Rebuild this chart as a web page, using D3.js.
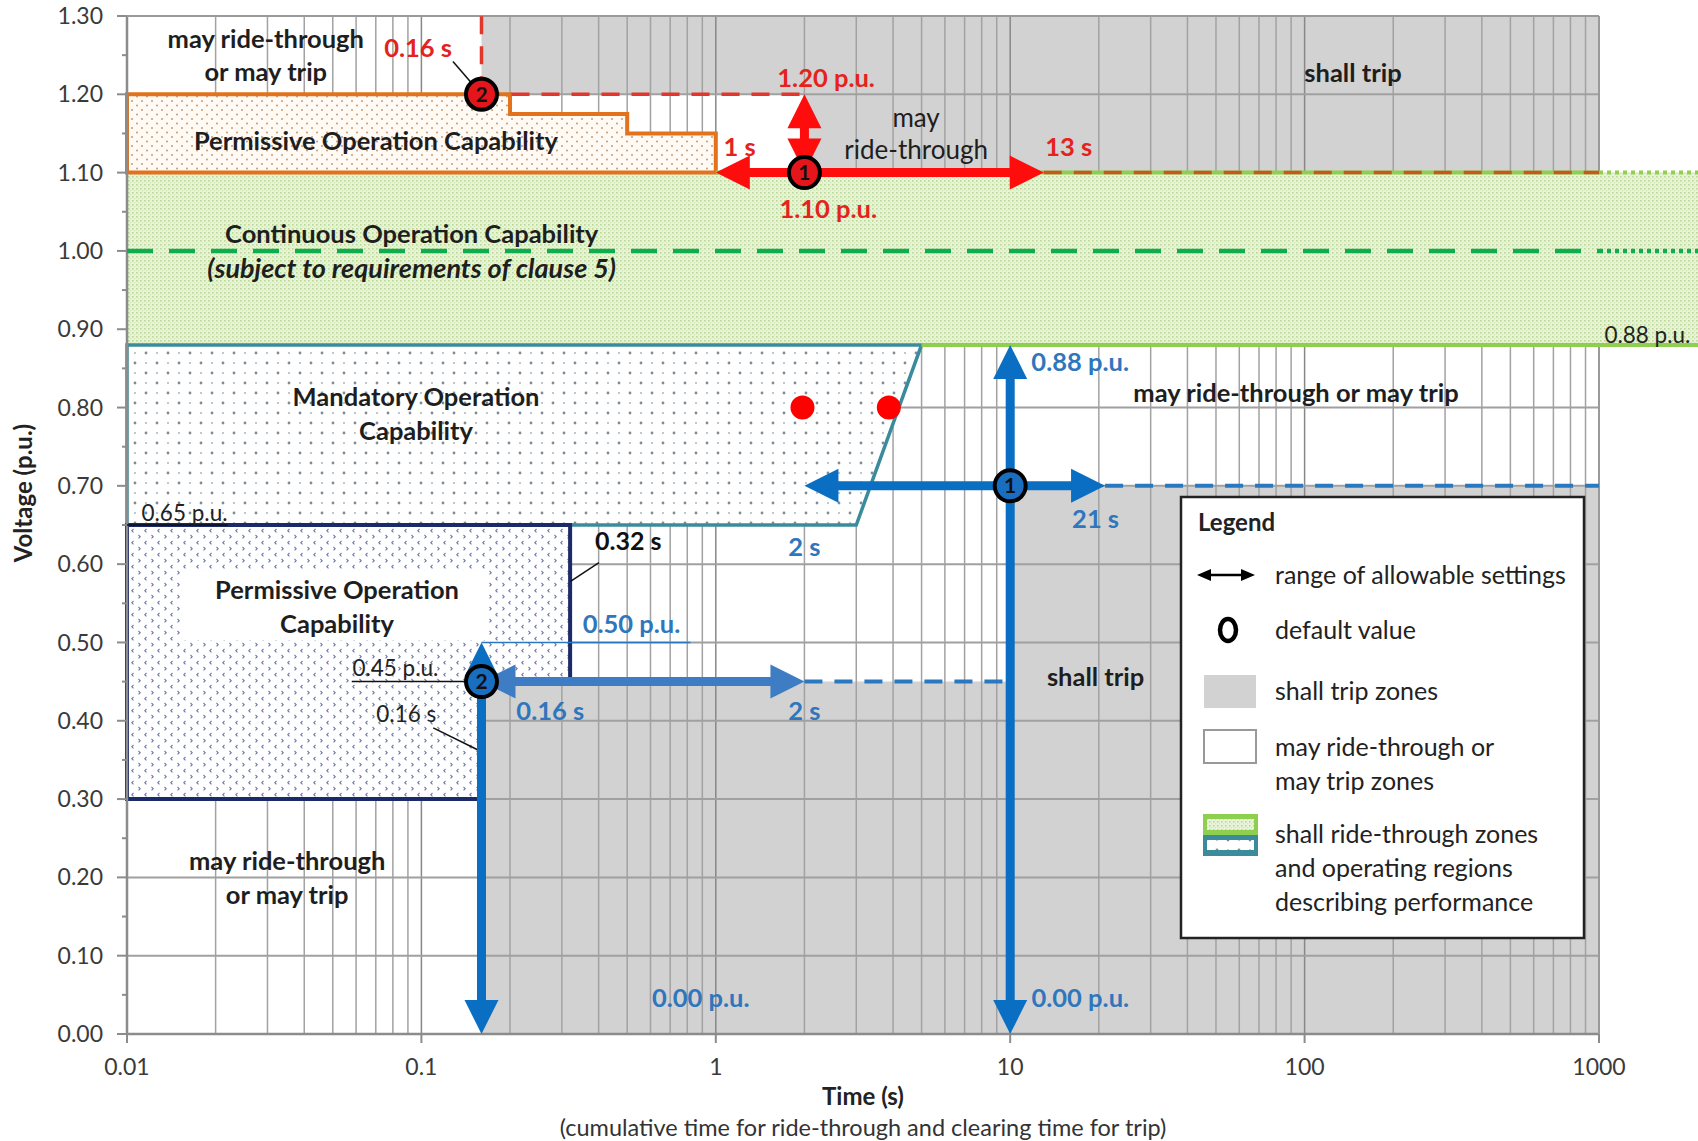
<!DOCTYPE html>
<html><head><meta charset="utf-8">
<script src="https://cdn.jsdelivr.net/npm/d3@7"></script>
<style>
html,body{margin:0;padding:0;background:#fff;}
svg{display:block;font-family:Lato,"Open Sans",sans-serif;}
</style></head>
<body>
<svg id="chart" width="1698" height="1141"></svg>
<script>
// ---------------- DATA ----------------
const xTicks = [0.01, 0.1, 1, 10, 100, 1000];
const xTickLabels = ["0.01", "0.1", "1", "10", "100", "1000"];
const yTicks = [0, 0.1, 0.2, 0.3, 0.4, 0.5, 0.6, 0.7, 0.8, 0.9, 1.0, 1.1, 1.2, 1.3];
const yTickLabels = ["0.00","0.10","0.20","0.30","0.40","0.50","0.60","0.70","0.80","0.90","1.00","1.10","1.20","1.30"];
const xAxisTitle = "Time (s)";
const xAxisSubtitle = "(cumulative time for ride-through and clearing time for trip)";
const yAxisTitle = "Voltage (p.u.)";

// zones [time (s), voltage (p.u.)]
const shallTripUpper = [[0.16,1.30],[1000,1.30],[1000,1.10],[2,1.10],[2,1.20],[0.16,1.20]];
const shallTripLower = [[0.16,0],[0.16,0.45],[10,0.45],[10,0.70],[1000,0.70],[1000,0]];
const continuousZone = [[0.01,0.88],[0.01,1.10],[2200,1.10],[2200,0.88]];
const permissiveHigh = [[0.01,1.10],[0.01,1.20],[0.2,1.20],[0.2,1.175],[0.5,1.175],[0.5,1.15],[1,1.15],[1,1.10]];
const mandatoryZone = [[0.01,0.65],[0.01,0.88],[5,0.88],[3,0.65]];
const permissiveLow = [[0.01,0.30],[0.01,0.65],[0.32,0.65],[0.32,0.45],[0.16,0.45],[0.16,0.30]];
const permissiveLowLabelBox = [[0.0155,0.503],[0.168,0.592]];

// lines
const refLines = [
  {pts:[[1,1.10],[1000,1.10]], kind:"greenSolid"},
  {pts:[[1000,1.10],[2200,1.10]], kind:"greenDot"},
  {pts:[[5,0.88],[2200,0.88]], kind:"greenSolid"},
  {pts:[[0.01,1.00],[1000,1.00]], kind:"greenDash"},
  {pts:[[1000,1.00],[2200,1.00]], kind:"greenDot2"},
  {pts:[[0.16,1.20],[2,1.20]], kind:"redDash"},
  {pts:[[0.16,1.20],[0.16,1.30]], kind:"redDash"},
  {pts:[[13,1.10],[1000,1.10]], kind:"orangeDash"},
  {pts:[[21,0.70],[1000,0.70]], kind:"blueDash"},
  {pts:[[2,0.45],[10,0.45]], kind:"blueDash"},
  {pts:[[0.16,0.02],[0.16,0.45]], kind:"blueDashThin"},
  {pts:[[0.16,0.50],[0.82,0.50]], kind:"blueThin"},
  {pts:[[0.058,0.45],[0.16,0.45]], kind:"blackThin"},
  {pts:[[0.01,0.65],[0.022,0.65]], kind:"blackThin"},
  {pts:[[0.128,1.242],[0.150,1.212]], kind:"blackThin"},
  {pts:[[0.401,0.602],[0.321,0.578]], kind:"blackThin"},
  {pts:[[0.1097,0.391],[0.157,0.362]], kind:"blackThin"}
];

// double-headed arrows
const arrows = [
  {from:[1,1.10], to:[13,1.10], color:"#ff0d0d"},
  {from:[2,1.10], to:[2,1.20], color:"#ff0d0d"},
  {from:[10,0], to:[10,0.88], color:"#0a6fc2"},
  {from:[2,0.70], to:[21,0.70], color:"#0a6fc2"},
  {from:[0.16,0.45], to:[2,0.45], color:"#3e7cc4"},
  {from:[0.16,0], to:[0.16,0.50], color:"#0a6fc2"}
];

// default-value markers
const markers = [
  {t:2, v:1.10, n:"1", fill:"#e4161b"},
  {t:0.16, v:1.20, n:"2", fill:"#e4161b"},
  {t:10, v:0.70, n:"1", fill:"#1a6ec0"},
  {t:0.16, v:0.45, n:"2", fill:"#1a6ec0"}
];
const redDots = [[1.97,0.80],[3.87,0.80]];

// text annotations anchored at [time, voltage]
const labels = [
  {t:0.0296, v:1.271, text:"may ride-through", kind:"zone"},
  {t:0.0296, v:1.228, text:"or may trip", kind:"zone"},
  {t:0.0975, v:1.259, text:"0.16 s", kind:"red"},
  {t:2.37, v:1.221, text:"1.20 p.u.", kind:"red"},
  {t:1.205, v:1.133, text:"1 s", kind:"red"},
  {t:15.8, v:1.133, text:"13 s", kind:"red"},
  {t:2.41, v:1.053, text:"1.10 p.u.", kind:"red"},
  {t:4.79, v:1.170, text:"may", kind:"zoneReg"},
  {t:4.79, v:1.129, text:"ride-through", kind:"zoneReg"},
  {t:146, v:1.227, text:"shall trip", kind:"zone"},
  {t:0.0701, v:1.140, text:"Permissive Operation Capability", kind:"zone"},
  {t:0.0927, v:1.021, text:"Continuous Operation Capability", kind:"zone"},
  {t:0.0927, v:0.978, text:"(subject to requirements of clause 5)", kind:"italic"},
  {t:1043, v:0.892, text:"0.88 p.u.", kind:"noteStart"},
  {t:0.0959, v:0.813, text:"Mandatory Operation", kind:"zone"},
  {t:0.0959, v:0.770, text:"Capability", kind:"zone"},
  {t:11.8, v:0.858, text:"0.88 p.u.", kind:"blueStart"},
  {t:93.5, v:0.819, text:"may ride-through or may trip", kind:"zone"},
  {t:0.0112, v:0.665, text:"0.65 p.u.", kind:"noteStart"},
  {t:2.0, v:0.622, text:"2 s", kind:"blue"},
  {t:19.5, v:0.657, text:"21 s", kind:"blue"},
  {t:0.504, v:0.629, text:"0.32 s", kind:"noteBold"},
  {t:0.0517, v:0.567, text:"Permissive Operation", kind:"zone"},
  {t:0.0517, v:0.524, text:"Capability", kind:"zone"},
  {t:0.517, v:0.523, text:"0.50 p.u.", kind:"blue"},
  {t:0.0816, v:0.4675, text:"0.45 p.u.", kind:"note"},
  {t:0.0888, v:0.408, text:"0.16 s", kind:"note"},
  {t:0.274, v:0.412, text:"0.16 s", kind:"blue"},
  {t:2.0, v:0.412, text:"2 s", kind:"blue"},
  {t:19.5, v:0.456, text:"shall trip", kind:"zone"},
  {t:0.035, v:0.221, text:"may ride-through", kind:"zone"},
  {t:0.035, v:0.178, text:"or may trip", kind:"zone"},
  {t:0.889, v:0.0456, text:"0.00 p.u.", kind:"blue"},
  {t:17.3, v:0.0456, text:"0.00 p.u.", kind:"blue"}
];

const legendTitle = "Legend";
const legendItems = [
  {icon:"arrow", lines:["range of allowable settings"]},
  {icon:"circle", lines:["default value"]},
  {icon:"gray", lines:["shall trip zones"]},
  {icon:"white", lines:["may ride-through or","may trip zones"]},
  {icon:"green", lines:["shall ride-through zones","and operating regions","describing performance"]}
];

// ---------------- DRAW ----------------
const svg = d3.select("#chart");
const x = d3.scaleLog().domain([0.01, 1000]).range([127, 1599]);
const y = d3.scaleLinear().domain([0, 1.3]).range([1034, 16]);
const line = d3.line().x(d => x(d[0])).y(d => y(d[1]));
const poly = pts => line(pts) + "Z";

const defs = svg.append("defs");
let p = defs.append("pattern").attr("id","pGreen").attr("patternUnits","userSpaceOnUse").attr("width",4).attr("height",4);
p.append("rect").attr("width",4).attr("height",4).attr("fill","#e9f3da");
p.append("rect").attr("x",0).attr("y",0).attr("width",1.6).attr("height",1.6).attr("fill","#b9d894");
p.append("rect").attr("x",2).attr("y",2).attr("width",1.2).attr("height",1.2).attr("fill","#d0e6b4");
p = defs.append("pattern").attr("id","pOrange").attr("patternUnits","userSpaceOnUse").attr("width",10).attr("height",9);
p.append("rect").attr("width",10).attr("height",9).attr("fill","#fffaf4");
p.append("circle").attr("cx",2).attr("cy",2).attr("r",1).attr("fill","#c49a7a");
p.append("circle").attr("cx",7).attr("cy",6.5).attr("r",1).attr("fill","#c49a7a");
p = defs.append("pattern").attr("id","pTeal").attr("patternUnits","userSpaceOnUse").attr("width",22).attr("height",20);
p.append("rect").attr("width",22).attr("height",20).attr("fill","#ffffff");
p.append("circle").attr("cx",3).attr("cy",3).attr("r",1.4).attr("fill","#7d8c99");
p.append("circle").attr("cx",14).attr("cy",13).attr("r",1.4).attr("fill","#7d8c99");
p.append("circle").attr("cx",14).attr("cy",3).attr("r",1).attr("fill","#aab5bf");
p.append("circle").attr("cx",3).attr("cy",13).attr("r",1).attr("fill","#aab5bf");
p = defs.append("pattern").attr("id","pNavy").attr("patternUnits","userSpaceOnUse").attr("width",13).attr("height",12);
p.append("rect").attr("width",13).attr("height",12).attr("fill","#ffffff");
p.append("path").attr("d","M3.5,1 L1.8,2.7 L3.5,4.4").attr("stroke","#6c78a8").attr("stroke-width",1.1).attr("fill","none");
p.append("path").attr("d","M8.5,7 L10.2,8.7 L8.5,10.4").attr("stroke","#6c78a8").attr("stroke-width",1.1).attr("fill","none");

svg.append("rect").attr("width",1698).attr("height",1141).attr("fill","#fff");

[shallTripUpper, shallTripLower].forEach(z =>
  svg.append("path").attr("d", poly(z)).attr("fill","#d2d2d2"));

// grid
const gGrid = svg.append("g");
const vt = x.ticks();
gGrid.selectAll("line.v").data(vt).join("line")
  .attr("x1", d => x(d)).attr("x2", d => x(d)).attr("y1", y(0)).attr("y2", y(1.3))
  .attr("stroke", d => xTicks.includes(+d.toPrecision(3)) ? "#888" : "#a2a2a2")
  .attr("stroke-width", 1.5);
gGrid.selectAll("line.h").data(yTicks).join("line")
  .attr("x1", x(0.01)).attr("x2", x(1000)).attr("y1", d => y(d)).attr("y2", d => y(d))
  .attr("stroke","#a0a0a0").attr("stroke-width",2);

// zones with patterns
svg.append("path").attr("d", poly(continuousZone)).attr("fill","url(#pGreen)");
svg.append("path").attr("d", poly(permissiveHigh)).attr("fill","url(#pOrange)")
  .attr("stroke","#e2731c").attr("stroke-width",4);
svg.append("path").attr("d", poly(mandatoryZone)).attr("fill","url(#pTeal)")
  .attr("stroke","#3a8c9c").attr("stroke-width",3.5);
svg.append("path").attr("d", poly(permissiveLow)).attr("fill","url(#pNavy)")
  .attr("stroke","#1c2a68").attr("stroke-width",4);
svg.append("rect")
  .attr("x", x(permissiveLowLabelBox[0][0])).attr("y", y(permissiveLowLabelBox[1][1]))
  .attr("width", x(permissiveLowLabelBox[1][0]) - x(permissiveLowLabelBox[0][0]))
  .attr("height", y(permissiveLowLabelBox[0][1]) - y(permissiveLowLabelBox[1][1]))
  .attr("fill","#fff");

// axes
const gAx = svg.append("g");
const axC = "#8c8c8c";
gAx.append("line").attr("x1",x(0.01)).attr("x2",x(0.01)).attr("y1",y(0)).attr("y2",y(1.3)).attr("stroke",axC).attr("stroke-width",2.5);
gAx.append("line").attr("x1",x(0.01)).attr("x2",x(1000)).attr("y1",y(0)).attr("y2",y(0)).attr("stroke",axC).attr("stroke-width",2.5);
gAx.append("line").attr("x1",x(0.01)).attr("x2",x(1000)).attr("y1",y(1.3)).attr("y2",y(1.3)).attr("stroke","#9a9a9a").attr("stroke-width",2);
gAx.append("line").attr("x1",x(1000)).attr("x2",x(1000)).attr("y1",y(0)).attr("y2",y(0.88)).attr("stroke","#9a9a9a").attr("stroke-width",2);
gAx.append("line").attr("x1",x(1000)).attr("x2",x(1000)).attr("y1",y(1.1)).attr("y2",y(1.3)).attr("stroke","#9a9a9a").attr("stroke-width",2);
gAx.selectAll("line.yt").data(yTicks).join("line")
  .attr("x1",x(0.01)-10).attr("x2",x(0.01)).attr("y1",d=>y(d)).attr("y2",d=>y(d)).attr("stroke",axC).attr("stroke-width",2);
gAx.selectAll("line.ym").data(d3.range(0.05,1.3,0.1)).join("line")
  .attr("x1",x(0.01)-5).attr("x2",x(0.01)).attr("y1",d=>y(d)).attr("y2",d=>y(d)).attr("stroke",axC).attr("stroke-width",2);
gAx.selectAll("line.xt").data(xTicks).join("line")
  .attr("x1",d=>x(d)).attr("x2",d=>x(d)).attr("y1",y(0)).attr("y2",y(0)+9).attr("stroke",axC).attr("stroke-width",2);
gAx.selectAll("text.yl").data(yTicks).join("text")
  .attr("x", x(0.01)-24).attr("y", d=>y(d)).attr("dy","0.35em").attr("text-anchor","end")
  .attr("font-size",23).attr("fill","#3a3a3a").text((d,i)=>yTickLabels[i]);
gAx.selectAll("text.xl").data(xTicks).join("text")
  .attr("x", d=>x(d)).attr("y", 1067).attr("dy","0.35em").attr("text-anchor","middle")
  .attr("font-size",23).attr("fill","#3a3a3a").text((d,i)=>xTickLabels[i]);
svg.append("text").attr("x",863).attr("y",1097).attr("dy","0.35em").attr("text-anchor","middle")
  .attr("font-size",24).attr("font-weight","bold").attr("fill","#222").text(xAxisTitle);
svg.append("text").attr("x",863).attr("y",1128).attr("dy","0.35em").attr("text-anchor","middle")
  .attr("font-size",23.5).attr("fill","#333").text(xAxisSubtitle);
svg.append("text").attr("transform","translate(24,493) rotate(-90)").attr("dy","0.35em").attr("text-anchor","middle")
  .attr("font-size",24).attr("font-weight","bold").attr("fill","#222").text(yAxisTitle);

// reference lines
const lineStyle = {
  greenSolid:{c:"#8fcf4f", w:4, d:null},
  greenDot:{c:"#8fcf4f", w:4, d:"4,4"},
  greenDash:{c:"#10ad4e", w:4.5, d:"26,16"},
  greenDot2:{c:"#10ad4e", w:4.5, d:"4,4"},
  redDash:{c:"#e2352b", w:3.5, d:"18,12"},
  orangeDash:{c:"#c8561e", w:3.5, d:"18,12"},
  blueDash:{c:"#2a78c0", w:4, d:"18,12"},
  blueDashThin:{c:"#5a9ad8", w:3, d:"10,8"},
  blueThin:{c:"#2a78c0", w:1.5, d:null},
  blackThin:{c:"#111", w:1.5, d:null}
};
refLines.forEach(l => {
  const s = lineStyle[l.kind];
  svg.append("path").attr("d", line(l.pts)).attr("fill","none")
    .attr("stroke", s.c).attr("stroke-width", s.w).attr("stroke-dasharray", s.d);
});

// arrows
function drawArrow(a) {
  const x1 = x(a.from[0]), y1 = y(a.from[1]), x2 = x(a.to[0]), y2 = y(a.to[1]);
  const dx = x2-x1, dy = y2-y1, len = Math.hypot(dx,dy);
  const ux = dx/len, uy = dy/len, nx = -uy, ny = ux;
  const L = 34, hw = 17, sw = 9;
  const g = svg.append("g");
  g.append("line").attr("x1", x1+ux*L*0.7).attr("y1", y1+uy*L*0.7)
    .attr("x2", x2-ux*L*0.7).attr("y2", y2-uy*L*0.7)
    .attr("stroke", a.color).attr("stroke-width", sw);
  [[x1,y1,-1],[x2,y2,1]].forEach(([px,py,s]) => {
    const bx = px - s*ux*L, by = py - s*uy*L;
    g.append("path").attr("d", `M${px},${py}L${bx+nx*hw},${by+ny*hw}L${bx-nx*hw},${by-ny*hw}Z`)
      .attr("fill", a.color);
  });
}
arrows.forEach(drawArrow);

svg.selectAll("circle.rd").data(redDots).join("circle")
  .attr("cx", d=>x(d[0])).attr("cy", d=>y(d[1])).attr("r", 12).attr("fill","#ff0000");

const gm = svg.selectAll("g.mk").data(markers).join("g")
  .attr("transform", d => `translate(${x(d.t)},${y(d.v)})`);
gm.append("circle").attr("r", 15.5).attr("fill", d=>d.fill).attr("stroke","#000").attr("stroke-width",4);
gm.append("text").attr("text-anchor","middle").attr("dy","0.36em").attr("font-size",21).attr("font-weight","bold")
  .attr("fill","#111").text(d=>d.n);

// labels
const labelStyle = {
  zone:{fs:25.5, fw:"bold", fc:"#1e1e1e", fst:"normal", a:"middle"},
  zoneReg:{fs:26, fw:"normal", fc:"#1e1e1e", fst:"normal", a:"middle"},
  italic:{fs:27, fw:"bold", fc:"#1e1e1e", fst:"italic", a:"middle"},
  red:{fs:25.5, fw:"bold", fc:"#e5221c", fst:"normal", a:"middle"},
  blue:{fs:25.5, fw:"bold", fc:"#2f76bd", fst:"normal", a:"middle"},
  blueStart:{fs:25.5, fw:"bold", fc:"#2f76bd", fst:"normal", a:"start"},
  note:{fs:22.5, fw:"normal", fc:"#222", fst:"normal", a:"middle"},
  noteStart:{fs:22.5, fw:"normal", fc:"#222", fst:"normal", a:"start"},
  noteBold:{fs:25, fw:"bold", fc:"#111", fst:"normal", a:"middle"}
};
labels.forEach(l => {
  const s = labelStyle[l.kind];
  svg.append("text").attr("x", x(l.t)).attr("y", y(l.v)).attr("dy","0.35em")
    .attr("text-anchor", s.a).attr("font-size", s.fs).attr("font-weight", s.fw)
    .attr("font-style", s.fst).attr("fill", s.fc).text(l.text);
});

// legend
const lg = svg.append("g").attr("transform","translate(1181,497)");
lg.append("rect").attr("width",403).attr("height",441).attr("fill","#fff").attr("stroke","#222").attr("stroke-width",2.5);
lg.append("text").attr("x",17).attr("y",26).attr("dy","0.35em").attr("font-size",24).attr("font-weight","bold").attr("fill","#222").text(legendTitle);
const textY = [78, 133, 194, 250, 337];
legendItems.forEach((it, i) => {
  const ty = textY[i];
  const ic = lg.append("g");
  if (it.icon === "arrow") {
    ic.append("line").attr("x1",26).attr("x2",66).attr("y1",ty).attr("y2",ty).attr("stroke","#000").attr("stroke-width",2.5);
    ic.append("path").attr("d",`M16,${ty}L30,${ty-6}L30,${ty+6}Z`).attr("fill","#000");
    ic.append("path").attr("d",`M74,${ty}L60,${ty-6}L60,${ty+6}Z`).attr("fill","#000");
  } else if (it.icon === "circle") {
    ic.append("ellipse").attr("cx",47).attr("cy",ty).attr("rx",8).attr("ry",11).attr("fill","none").attr("stroke","#000").attr("stroke-width",4.5);
  } else if (it.icon === "gray") {
    ic.append("rect").attr("x",23).attr("y",ty-16).attr("width",52).attr("height",33).attr("fill","#d2d2d2");
  } else if (it.icon === "white") {
    ic.append("rect").attr("x",23).attr("y",ty-17).attr("width",52).attr("height",33).attr("fill","#fff").attr("stroke","#999").attr("stroke-width",2);
  } else if (it.icon === "green") {
    ic.append("rect").attr("x",22).attr("y",ty-20).attr("width",55).attr("height",21).attr("fill","#8fcf4f");
    ic.append("rect").attr("x",26).attr("y",ty-15).attr("width",47).attr("height",11).attr("fill","url(#pGreen)");
    ic.append("rect").attr("x",22).attr("y",ty+1).attr("width",55).attr("height",21).attr("fill","#3a8c9c");
    ic.append("rect").attr("x",26).attr("y",ty+6).attr("width",47).attr("height",10).attr("fill","url(#pTeal)");
  }
  it.lines.forEach((t, j) => {
    lg.append("text").attr("x",94).attr("y", ty + j*34).attr("dy","0.35em")
      .attr("font-size",25).attr("fill","#222").text(t);
  });
});
</script>
</body></html>
